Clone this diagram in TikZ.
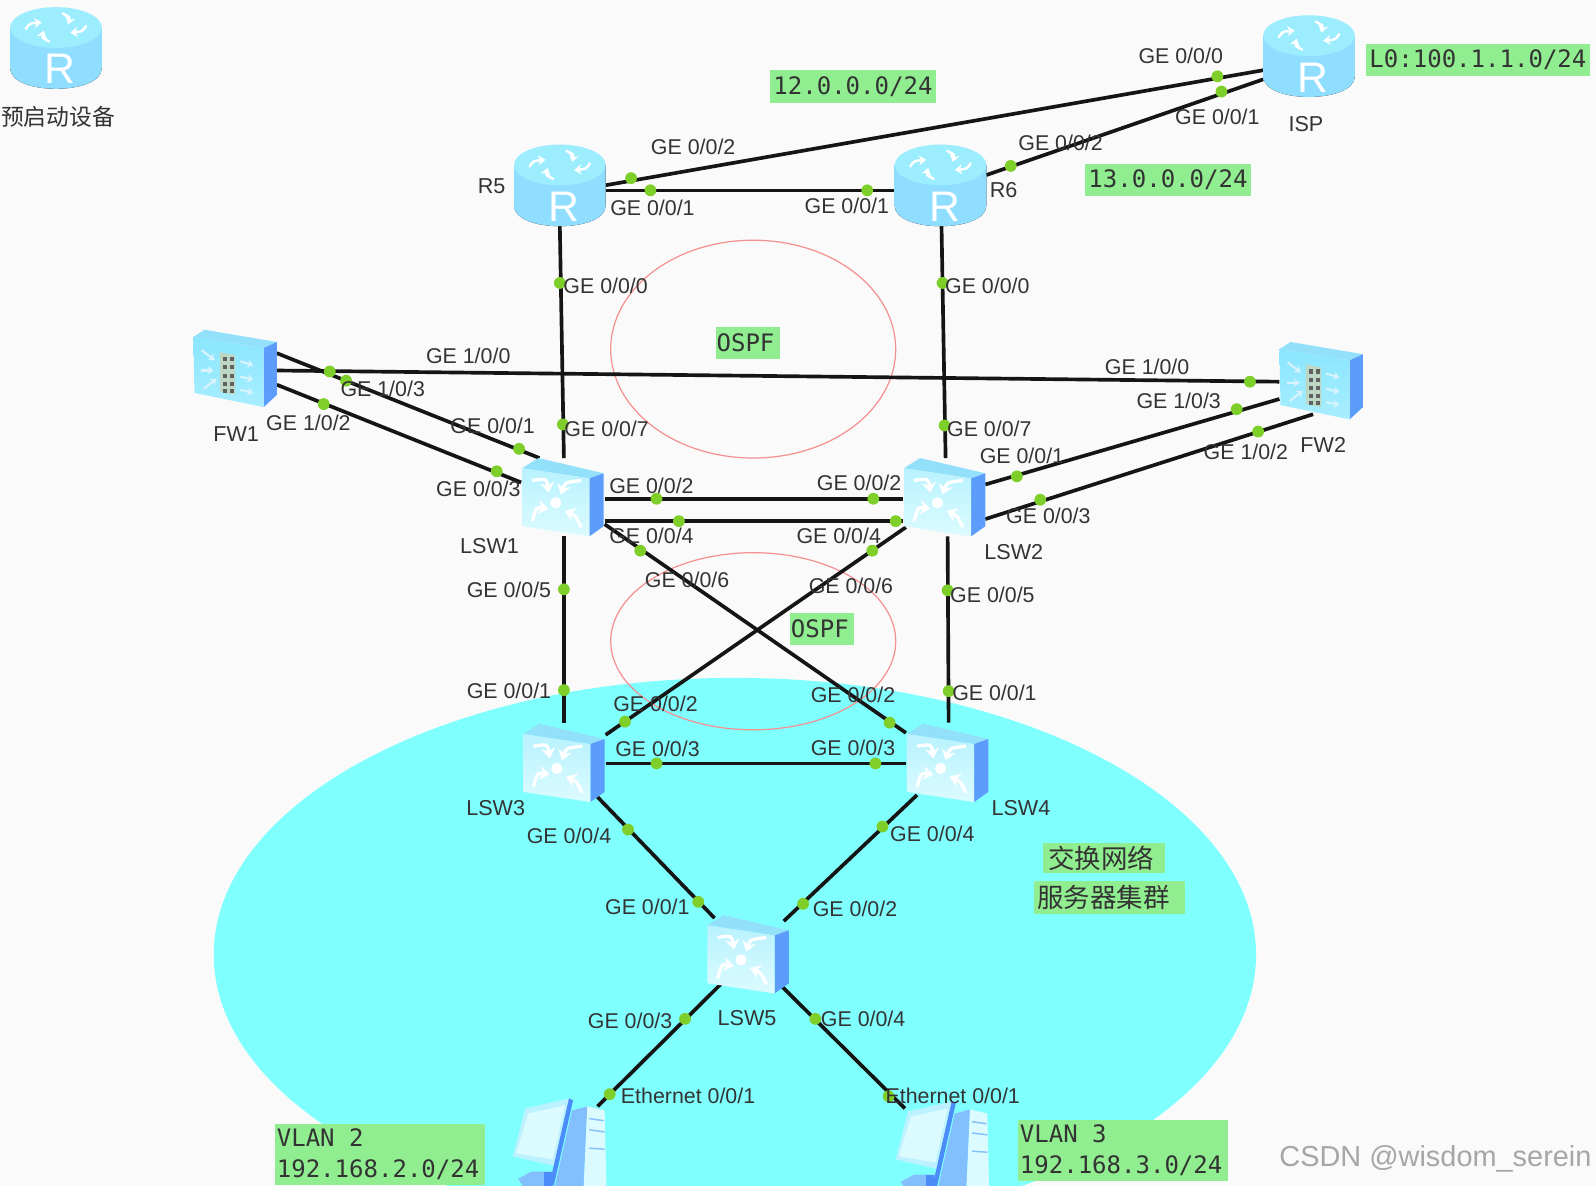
\documentclass[tikz,border=0pt]{standalone}
\usepackage{fontspec}
\setmainfont{Liberation Sans}
\newfontfamily\cjkf{Noto Sans CJK SC}
\newfontfamily\monof{DejaVu Sans Mono}
\usetikzlibrary{calc,arrows.meta}
\definecolor{bgc}{HTML}{FAFAFA}
\definecolor{cyanbg}{HTML}{80FFFF}
\definecolor{areared}{HTML}{F59090}
\definecolor{greenbox}{HTML}{90EE90}
\definecolor{portdot}{HTML}{7FCF2B}
\definecolor{textc}{HTML}{333333}
\definecolor{linkc}{HTML}{151515}
\definecolor{sideblue}{HTML}{5C9DFB}
\definecolor{topblue}{HTML}{93E0FB}
\definecolor{rsidea}{HTML}{90DEFF}
\definecolor{rsideb}{HTML}{7CC6FC}
\definecolor{rtop}{HTML}{9CEEFF}
\definecolor{facea}{HTML}{B8F2FF}
\definecolor{faceb}{HTML}{DCFBFF}
\definecolor{fwa}{HTML}{8AE6FF}
\definecolor{fwb}{HTML}{A8EEFF}
\definecolor{tile}{HTML}{BCD8C4}
\definecolor{pcside}{HTML}{82BFFC}
\definecolor{pcedge}{HTML}{4C8CF8}
\definecolor{pcframe}{HTML}{BCF2FF}
\tikzset{
  x=0.5pt,y=-0.5pt,
  link/.style={draw=linkc,line width=1.8pt},
  area/.style={draw=areared,line width=0.6pt},
  dev/.style={inner sep=0pt,minimum width=41pt,minimum height=39pt},
  lab/.style={text=textc,inner sep=0pt,font=\fontsize{10.5}{12}\selectfont},
  devlab/.style={text=textc,inner sep=0pt,font=\fontsize{10.6}{12}\selectfont},
  gbox/.style={fill=greenbox,inner sep=0pt,text=black!80,font=\monof\fontsize{11.8}{14.8}\selectfont},
  portpt/.style={circle,fill=portdot,inner sep=0pt,minimum size=5.8pt},
  wa/.style={white,line width=1.6pt,-{Stealth[length=5pt,width=7pt]}},
  wr/.style={white,line width=1.2pt,-{Stealth[length=3.6pt,width=5pt]}},
  wf/.style={white!85!cyan,line width=1pt,-{Stealth[length=3pt,width=4pt]}},
  routerpic/.pic={
    \fill[left color=rsidea,middle color=rsideb,right color=rsidea]
      (-45,-20) -- (-45,20) .. controls (-45,47) and (45,47) .. (45,20) -- (45,-20) -- cycle;
    \fill[rtop] (0,-20) ellipse [x radius=45,y radius=20];
    \draw[wr] (-30,-18) .. controls (-26,-24) .. (-14,-25);
    \draw[wr] (30,-22) .. controls (26,-16) .. (14,-15);
    \draw[wr] (-6,-6) .. controls (-14,-10) .. (-12,-17);
    \draw[wr] (6,-34) .. controls (14,-30) .. (12,-23);
    \node[text=white,inner sep=0pt,font=\fontsize{21}{21}\selectfont] (-R) at (4,21) {R};
  },
  boxface/.pic={
    \fill[topblue] (-40,-28) -- (-24,-38) -- (40,-23) -- (26,-18) -- cycle;
    \fill[sideblue] (26,-18) -- (40,-23) -- (40,29) -- (26,39) -- cycle;
    \shade[top color=facea,bottom color=faceb] (-40,-28) -- (26,-18) -- (26,39) -- (-40,29) -- cycle;
  },
  switchpic/.pic={
    \pic {boxface};
    \fill[white] (-7,6) circle [radius=5.5];
    \draw[wa] (-30,-16) .. controls (-16,-18) .. (-14,-4);
    \draw[wa] (18,-16) .. controls (2,-14) .. (-2,-2);
    \draw[wa] (-30,24) .. controls (-26,10) .. (-14,12);
    \draw[wa] (18,30) .. controls (12,18) .. (2,14);
  },
  firewallpic/.pic={
    \fill[topblue] (-41,-31) -- (-30,-38) -- (41,-26) -- (28,-20) -- cycle;
    \fill[sideblue] (28,-20) -- (41,-26) -- (41,26) -- (28,38) -- cycle;
    \shade[top color=fwa,bottom color=fwb] (-41,-31) -- (28,-20) -- (28,38) -- (-40,24) -- cycle;
    \fill[tile] (-15,-16) -- (0,-13) -- (0,26) -- (-15,23) -- cycle;
    \foreach \yy in {-11,-3,5,13,20} \foreach \xx in {-12,-5} \fill[black!62] (\xx,\yy) rectangle ++(4,4);
    \draw[wf] (-33,-18) -- (-20,-8);
    \draw[wf] (-34,2) -- (-21,2);
    \draw[wf] (-31,20) -- (-18,10);
    \draw[wf] (5,-7) -- (18,-3);
    \draw[wf] (5,8) -- (18,11);
    \draw[wf] (5,21) -- (18,24);
  },
  pcpic/.pic={
    \fill[pcside] (-41,33) -- (-28,26) -- (-7,26) -- (-7,50) -- (-30,50) -- cycle;
    \fill[pcedge] (-16,26) -- (-8,26) -- (-8,50) -- (-16,50) -- cycle;
    \fill[pcside] (12,-34) -- (27,-38) -- (23,50) -- (-7,50) -- cycle;
    \fill[pcframe] (-34,-36) -- (10,-46) -- (-3,21) -- (-46,11) -- cycle;
    \fill[pcedge] (9,-46) -- (13,-44) -- (-6,40) -- (-10,38) -- cycle;
    \fill[faceb] (-31,-31) -- (5,-39) -- (-7,14) -- (-43,8) -- cycle;
    \fill[faceb] (27,-38) -- (44,-34) -- (46,50) -- (23,50) -- cycle;
    \draw[pcside,line width=0.7pt] (29,-26) -- (43,-24) (29,-15) -- (44,-13) (29,3) -- (44,4);
  },
}
\begin{document}
\begin{tikzpicture}
\useasboundingbox (0,0) rectangle (1568,1165);
\clip (0,0) rectangle (1568,1165);
\fill[bgc] (0,0) rectangle (1568,1165);
\fill[cyanbg] (722,938) ellipse [x radius=512,y radius=272];
\draw[area] (740,343) ellipse [x radius=140,y radius=107];
\draw[area] (740,630) ellipse [x radius=140,y radius=87];

% devices (named boxes)
\node[dev] (r0) at (55,47) {};
\node[dev] (r5) at (550,182) {};
\node[dev] (r6) at (924,182) {};
\node[dev] (isp) at (1286,55) {};
\node[dev] (fw1) at (231,362) {};
\node[dev] (fw2) at (1298,374) {};
\node[dev] (lsw1) at (553,488) {};
\node[dev] (lsw2) at (928,488) {};
\node[dev] (lsw3) at (554,749) {};
\node[dev] (lsw4) at (931,749) {};
\node[dev] (lsw5) at (735,937) {};
\node[dev] (pc1) at (550,1125) {};
\node[dev] (pc2) at (926,1128) {};

% connectors
\draw[link] ($(r5)+(45,0)$) -- ($(isp)+(-45,14)$);
\draw[link] ($(r5)+(45,5)$) -- ($(r6)+(-45,5)$);
\draw[link] ($(r6)+(45,-10)$) -- ($(isp)+(-45,23)$);
\draw[link] ($(r5)+(0,40)$) -- ($(lsw1)+(1,-38)$);
\draw[link] ($(r6)+(1,40)$) -- ($(lsw2)+(1,-38)$);
\draw[link] ($(fw1)+(41,2)$) -- ($(fw2)+(-41,1)$);
\draw[link] ($(fw1)+(41,-15)$) -- ($(lsw1)+(-23,-38)$);
\draw[link] ($(fw1)+(41,16)$) -- ($(lsw1)+(-41,-14)$);
\draw[link] ($(fw2)+(-41,18)$) -- ($(lsw2)+(40,-12)$);
\draw[link] ($(fw2)+(-8,33)$) -- ($(lsw2)+(40,22)$);
\draw[link] ($(lsw1)+(41,2)$) -- ($(lsw2)+(-41,2)$);
\draw[link] ($(lsw1)+(41,24)$) -- ($(lsw2)+(-41,24)$);
\draw[link] ($(lsw1)+(41,27)$) -- ($(lsw4)+(-41,-29)$);
\draw[link] ($(lsw2)+(-38,30)$) -- ($(lsw3)+(41,-27)$);
\draw[link] ($(lsw1)+(1,39)$) -- ($(lsw3)+(0,-39)$);
\draw[link] ($(lsw2)+(3,39)$) -- ($(lsw4)+(1,-39)$);
\draw[link] ($(lsw3)+(41,1)$) -- ($(lsw4)+(-41,1)$);
\draw[link] ($(lsw3)+(33,34)$) -- ($(lsw5)+(-33,-35)$);
\draw[link] ($(lsw4)+(-30,32)$) -- ($(lsw5)+(35,-32)$);
\draw[link] ($(lsw5)+(-27,30)$) -- ($(pc1)+(37,-38)$);
\draw[link] ($(lsw5)+(33,32)$) -- ($(pc2)+(-37,-39)$);

% device icons
\pic (ir0) at (r0) {routerpic};
\pic (ir5) at (r5) {routerpic};
\pic (ir6) at (r6) {routerpic};
\pic (iisp) at (isp) {routerpic};
\pic at (fw1) {firewallpic};
\pic at (fw2) {firewallpic};
\pic at (lsw1) {switchpic};
\pic at (lsw2) {switchpic};
\pic at (lsw3) {switchpic};
\pic at (lsw4) {switchpic};
\pic at (lsw5) {switchpic};
\pic at (pc1) {pcpic};
\pic at (pc2) {pcpic};

% port dots
\foreach \px/\py [count=\i] in {620/175,1196/75,639/187,852/187,993/163,1200/90,550/278,553/417,926/278,928/418,
  324/365,1228/375,340/374,510/441,318/397,488/463,1215/402,999/468,1236/424,1022/491,
  645/490,858/490,667/512,880/512,629/541,874/710,857/541,614/709,554/579,554/678,931/580,932/679,
  645/750,860/750,617/815,686/886,867/812,789/888,673/1001,599/1075,801/1001,873/1077}
  \node[portpt] (dot\i) at (\px,\py) {};

% port labels
\foreach \px/\py/\t [count=\i] in {
  1160/55/{GE 0/0/0},1196/115/{GE 0/0/1},681/144/{GE 0/0/2},641/204/{GE 0/0/1},832/202/{GE 0/0/1},1042/140/{GE 0/0/2},
  595/281/{GE 0/0/0},970/281/{GE 0/0/0},460/350/{GE 1/0/0},1127/360/{GE 1/0/0},376/382/{GE 1/0/3},1158/394/{GE 1/0/3},
  303/415/{GE 1/0/2},1224/444/{GE 1/0/2},484/418/{GE 0/0/1},596/421/{GE 0/0/7},972/421/{GE 0/0/7},1004/448/{GE 0/0/1},
  470/480/{GE 0/0/3},640/477/{GE 0/0/2},844/474/{GE 0/0/2},1030/507/{GE 0/0/3},640/526/{GE 0/0/4},824/526/{GE 0/0/4},
  500/580/{GE 0/0/5},975/584/{GE 0/0/5},675/570/{GE 0/0/6},836/576/{GE 0/0/6},500/679/{GE 0/0/1},977/681/{GE 0/0/1},
  644/692/{GE 0/0/2},838/683/{GE 0/0/2},646/736/{GE 0/0/3},838/735/{GE 0/0/3},559/821/{GE 0/0/4},916/819/{GE 0/0/4},
  636/891/{GE 0/0/1},840/893/{GE 0/0/2},619/1003/{GE 0/0/3},848/1001/{GE 0/0/4},676/1077/{Ethernet 0/0/1},936/1077/{Ethernet 0/0/1}}
  \node[lab] (lab\i) at (\px,\py) {\t};

% device names
\foreach \px/\py/\t [count=\i] in {483/183/R5,986/187/R6,1283/122/ISP,232/426/FW1,1300/437/FW2,481/536/LSW1,996/542/LSW2,487/794/LSW3,1003/794/LSW4,734/1000/LSW5}
  \node[devlab] (name\i) at (\px,\py) {\t};
\node[devlab,anchor=east,font=\cjkf\fontsize{11.2}{14}\selectfont] (name0) at (113.5,115) {预启动设备};

% green notes
\node[gbox,minimum width=82pt,minimum height=16pt] (n1) at (838,85) {12.0.0.0/24};
\node[gbox,minimum width=81.5pt,minimum height=16pt] (n2) at (1147.5,177) {13.0.0.0/24};
\node[gbox,minimum width=110pt,minimum height=16pt] (n3) at (1452,59) {L0:100.1.1.0/24};
\node[gbox,inner xsep=0.5pt,text width=30.5pt,align=left,minimum height=16pt] (n4) at (734.5,337) {OSPF};
\node[gbox,inner xsep=0.5pt,text width=30.5pt,align=left,minimum height=16pt] (n5) at (807.5,618) {OSPF};
\node[gbox,font=\cjkf\fontsize{13}{15}\selectfont,inner xsep=2.5pt,text width=55pt,align=left,minimum height=15pt] (n6) at (1085,843) {交换网络};
\node[gbox,font=\cjkf\fontsize{13}{15}\selectfont,inner xsep=1.5pt,text width=71pt,align=left,minimum height=16pt] (n7) at (1090,882) {服务器集群};
\node[gbox,inner xsep=1pt,minimum height=30pt,align=left,text width=101pt] (n8) at (373,1134) {VLAN\kern0.602em 2\\192.168.2.0/24};
\node[gbox,inner xsep=1pt,minimum height=30pt,align=left,text width=101pt] (n9) at (1103,1130) {VLAN\kern0.602em 3\\192.168.3.0/24};

\node[inner sep=0pt,anchor=east,text=black!35,font=\fontsize{14.2}{16}\selectfont] (wm) at (1564,1139) {CSDN @wisdom\_serein};
\end{tikzpicture}
\end{document}
